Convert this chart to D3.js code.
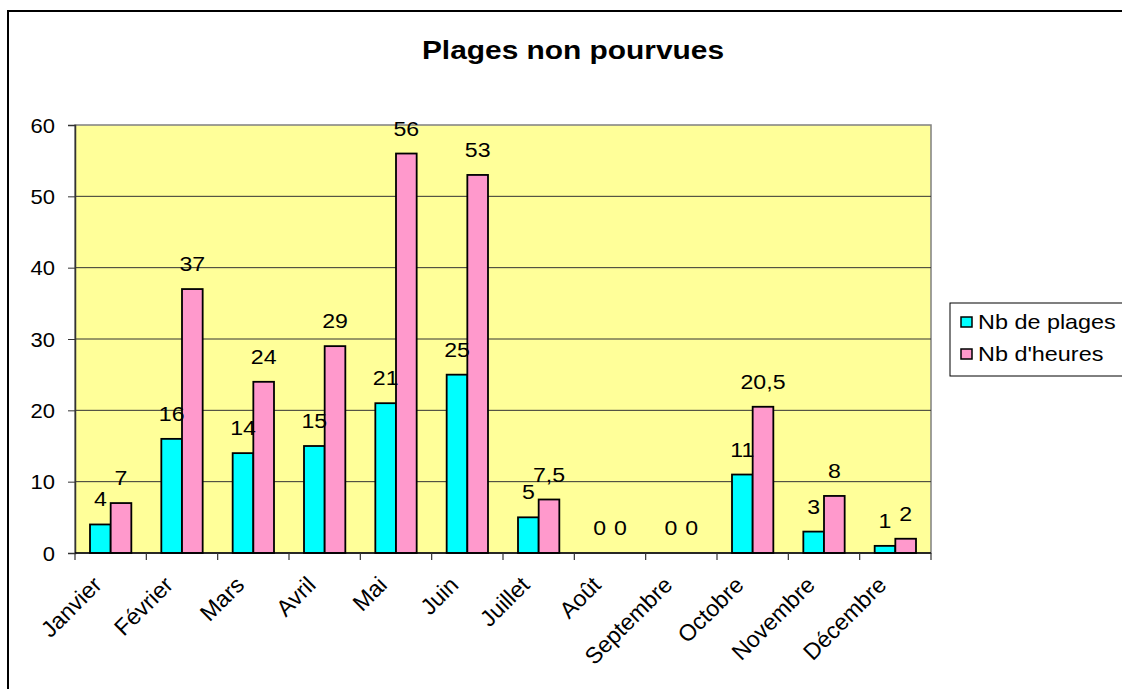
<!DOCTYPE html>
<html>
<head>
<meta charset="utf-8">
<script src="https://cdn.jsdelivr.net/npm/d3@7"></script>
<style>
  html, body { margin: 0; background: #fff; overflow: hidden; }
  svg { display: block; font-family: Arial, "Liberation Sans", sans-serif; }
</style>
</head>
<body>
<script>
// data
var months = ["Janvier", "Février", "Mars", "Avril", "Mai", "Juin",
              "Juillet", "Août", "Septembre", "Octobre", "Novembre", "Décembre"];
var nbPlages = [4, 16, 14, 15, 21, 25, 5, 0, 0, 11, 3, 1];
var nbHeures = [7, 37, 24, 29, 56, 53, 7.5, 0, 0, 20.5, 8, 2];
var seriesNames = ["Nb de plages", "Nb d'heures"];
var seriesColors = ["#00ffff", "#ff99cc"];
var yTicks = [0, 10, 20, 30, 40, 50, 60];
var title = "Plages non pourvues";

var width = 1122,
    height = 689,
    plot = {left: 75, top: 125, right: 931, bottom: 553},
    stretch = 1.1;   // text in the original looks a bit wide

var svg = d3.select("body").append("svg")
    .attr("width", width)
    .attr("height", height);

// outer chart frame (right and bottom run off the picture)
svg.append("path")
    .attr("d", "M8," + height + "V11H" + width)
    .attr("fill", "none")
    .attr("stroke", "#000")
    .attr("stroke-width", 2);

var x = d3.scaleBand()
    .domain(months)
    .range([plot.left, plot.right]);

var x1 = d3.scaleBand()
    .domain([0, 1])
    .range([15, x.bandwidth() - 15]);

var y = d3.scaleLinear()
    .domain([0, 60])
    .range([plot.bottom, plot.top]);

// plot background
svg.append("rect")
    .attr("x", plot.left).attr("y", plot.top)
    .attr("width", plot.right - plot.left)
    .attr("height", plot.bottom - plot.top)
    .attr("fill", "#ffff99")
    .attr("stroke", "#808080")
    .attr("stroke-width", 1.5);

// gridlines
svg.append("g")
    .selectAll("line")
    .data(yTicks.filter(function(t) { return t > 0 && t < 60; }))
    .enter().append("line")
    .attr("x1", plot.left).attr("x2", plot.right)
    .attr("y1", function(d) { return y(d); })
    .attr("y2", function(d) { return y(d); })
    .attr("stroke", "#333")
    .attr("stroke-width", 1);

// y axis
var yAxis = svg.append("g")
    .attr("transform", "translate(" + plot.left + ",0)")
    .call(d3.axisLeft(y).tickValues(yTicks).tickSize(7).tickPadding(6));
yAxis.select(".domain").attr("stroke", "#333").attr("stroke-width", 1.5);
yAxis.selectAll(".tick line").attr("stroke", "#333");
yAxis.selectAll(".tick text")
    .attr("font-size", 20)
    .attr("fill", "#000")
    .attr("font-family", "Arial, 'Liberation Sans', sans-serif")
    .attr("dy", "0.35em")
    .attr("transform", "translate(-20,0) scale(" + stretch + ",1)")
    .attr("x", 0);

// bars, two series per month
var series = [nbPlages, nbHeures];
var groups = svg.append("g")
    .selectAll("g")
    .data(months)
    .enter().append("g")
    .attr("transform", function(d) { return "translate(" + x(d) + ",0)"; });

groups.selectAll("rect")
    .data(function(d, i) { return series.map(function(s, k) { return {k: k, v: s[i]}; }); })
    .enter().append("rect")
    .filter(function(d) { return d.v > 0; })
    .attr("x", function(d) { return x1(d.k); })
    .attr("width", x1.bandwidth())
    .attr("y", function(d) { return y(d.v); })
    .attr("height", function(d) { return y(0) - y(d.v); })
    .attr("fill", function(d) { return seriesColors[d.k]; })
    .attr("stroke", "#000")
    .attr("stroke-width", 1.8);

// value labels (French decimal comma)
groups.selectAll("text")
    .data(function(d, i) { return series.map(function(s, k) { return {k: k, v: s[i]}; }); })
    .enter().append("text")
    .attr("text-anchor", "middle")
    .attr("font-size", 21)
    .attr("transform", function(d) {
        return "translate(" + (x1(d.k) + x1.bandwidth() / 2) + "," + (y(d.v) - 18) + ") scale(" + stretch + ",1)";
    })
    .text(function(d) { return String(d.v).replace(".", ","); });

// x axis
var xAxis = svg.append("g")
    .attr("transform", "translate(0," + plot.bottom + ")");
xAxis.append("line")
    .attr("x1", plot.left).attr("x2", plot.right)
    .attr("stroke", "#000").attr("stroke-width", 1.5);
xAxis.selectAll("line.tick")
    .data(months.concat([null]))
    .enter().append("line")
    .attr("class", "tick")
    .attr("x1", function(d) { return d ? x(d) : plot.right; })
    .attr("x2", function(d) { return d ? x(d) : plot.right; })
    .attr("y1", 0).attr("y2", 7)
    .attr("stroke", "#333").attr("stroke-width", 1.2);
xAxis.selectAll("text")
    .data(months)
    .enter().append("text")
    .attr("text-anchor", "end")
    .attr("font-size", 23)
    .attr("transform", function(d) {
        return "translate(" + (x(d) + x.bandwidth() / 2 - 19) + ",22) rotate(-45)";
    })
    .attr("dy", "0.7em")
    .text(function(d) { return d; });

// title
svg.append("text")
    .attr("text-anchor", "middle")
    .attr("font-size", 26)
    .attr("font-weight", "bold")
    .attr("transform", "translate(573,59) scale(1.15,1)")
    .text(title);

// legend (runs off the right edge, as in the original)
var legend = svg.append("g").attr("transform", "translate(950,303)");
legend.append("rect")
    .attr("width", 200).attr("height", 73)
    .attr("fill", "#fff")
    .attr("stroke", "#000")
    .attr("stroke-width", 1);
var items = legend.selectAll("g.item")
    .data(seriesNames)
    .enter().append("g")
    .attr("class", "item")
    .attr("transform", function(d, i) { return "translate(0," + (i * 32) + ")"; });
items.append("rect")
    .attr("x", 11).attr("y", 14)
    .attr("width", 11).attr("height", 10)
    .attr("fill", function(d, i) { return seriesColors[i]; })
    .attr("stroke", "#000")
    .attr("stroke-width", 1.5);
items.append("text")
    .attr("font-size", 20)
    .attr("transform", "translate(28,26) scale(1.17,1)")
    .text(function(d) { return d; });

// keep the right edge clean
svg.append("rect")
    .attr("x", 1112).attr("y", 12)
    .attr("width", 10).attr("height", 290)
    .attr("fill", "#fff");
svg.append("rect")
    .attr("x", 1112).attr("y", 377)
    .attr("width", 10).attr("height", 312)
    .attr("fill", "#fff");
</script>
</body>
</html>
